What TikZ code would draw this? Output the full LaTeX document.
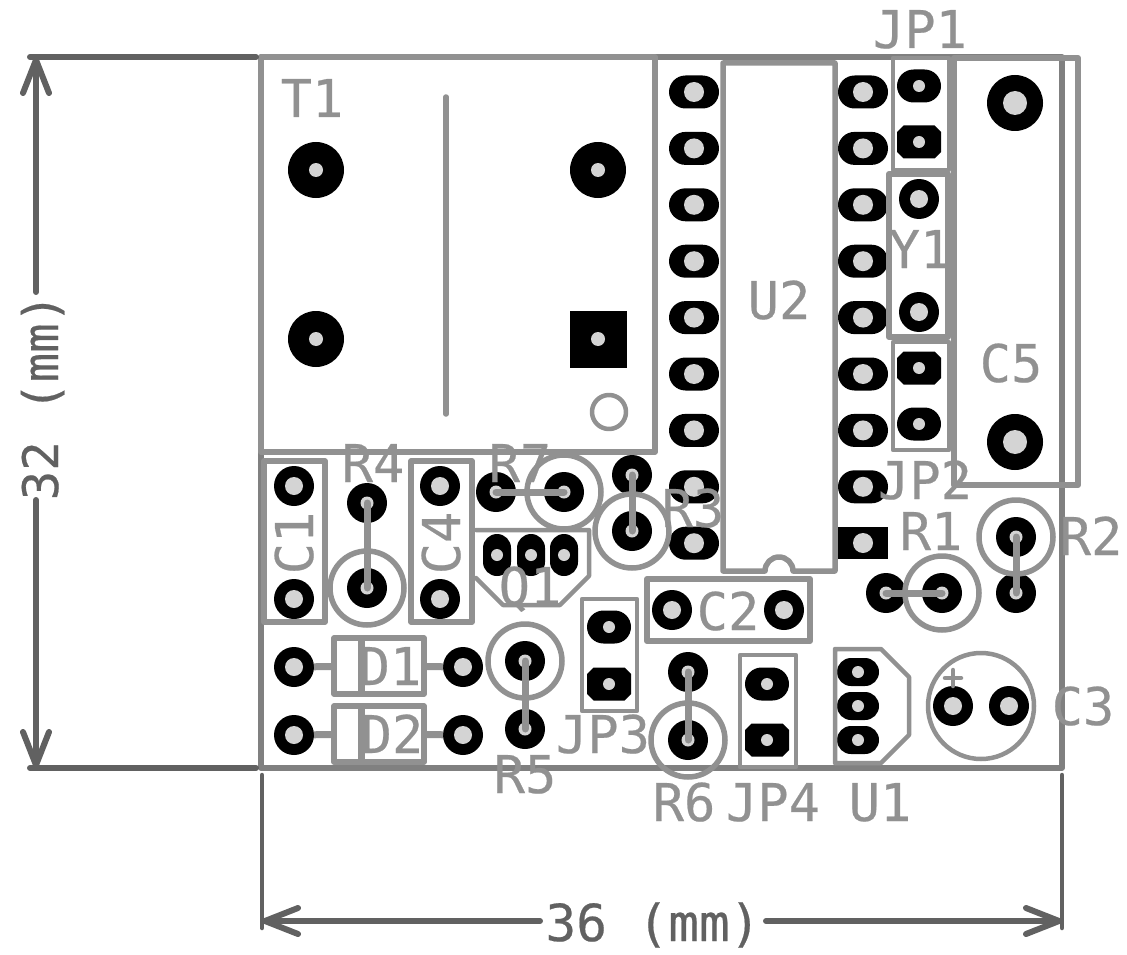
\documentclass[tikz,border=0pt]{standalone}
\usepackage{fontspec}
\usetikzlibrary{arrows.meta,shapes.misc}
\newfontfamily\pcbfont[FakeBold=0.4]{DejaVu Sans Mono}
\definecolor{silkgray}{gray}{0.57}
\definecolor{edgegray}{gray}{0.50}
\definecolor{dimgray}{gray}{0.38}
\definecolor{drillgray}{gray}{0.83}
\tikzset{
  silk/.style={draw=silkgray,line width=5.5pt,line join=round,line cap=round},
  silkthin/.style={silk,line width=4.5pt},
  wire/.style={silk,line width=7pt},
  edgeline/.style={draw=edgegray,line width=5.5pt,line join=round},
  dimline/.style={draw=dimgray,line width=6pt,line cap=round},
  dimtip/.style={dimline,-{Straight Barb[length=33pt,width=26pt,round]}},
  silktext/.style={text=silkgray,inner sep=0pt,anchor=base,font=\pcbfont\fontsize{52}{52}\selectfont},
  dimtext/.style={text=dimgray,inner sep=0pt,anchor=base,font=\pcbfont\fontsize{#1}{#1}\selectfont},
  drill/.style={path picture={\fill[drillgray] (path picture bounding box.center) circle (#1);}},
  pad/.style={fill=black,inner sep=0pt,outer sep=0pt},
  padround/.style={pad,circle,minimum size=40pt,drill=9pt},
  padsmall/.style={pad,circle,minimum size=40pt,drill=6.5pt},
  padlarge/.style={pad,circle,minimum size=56pt,drill=#1},
  padoval/.style={pad,rounded rectangle,minimum width=50pt,minimum height=33pt,drill=10pt},
  padjp/.style={pad,rounded rectangle,minimum width=44pt,minimum height=33pt,drill=6pt},
  padocta/.style={rectangle,inner sep=0pt,outer sep=0pt,minimum width=44pt,minimum height=33pt,
    path picture={
      \fill[black] ([xshift=-22pt,yshift=-10pt]path picture bounding box.center)
        -- ++(0pt,20pt) -- ++(6.5pt,6.5pt) -- ++(31pt,0pt) -- ++(6.5pt,-6.5pt)
        -- ++(0pt,-20pt) -- ++(-6.5pt,-6.5pt) -- ++(-31pt,0pt) -- cycle;
      \fill[drillgray] (path picture bounding box.center) circle (6pt);
    }},
  padfet/.style={pad,rounded rectangle,minimum width=42pt,minimum height=28pt,drill=6pt},
  body/.style={silk,rectangle,inner sep=0pt,outer sep=0pt,fill=none},
}
\begin{document}
\begin{tikzpicture}[x=1pt,y=-1pt]
\useasboundingbox (0,0) rectangle (1127,955);
\path (36,57) coordinate (dimTop);
\path (36,768) coordinate (dimBot);
\path (262,921) coordinate (dimLeft);
\path (1062,921) coordinate (dimRight);

% board
\draw[edgeline] (261,57) rectangle (1062,768);

% pads
\node[padlarge=7pt] (T1a) at (316,170) {};
\node[padlarge=7pt] (T1b) at (598,170) {};
\node[padlarge=7pt] (T1c) at (316,339) {};
\node[pad,rectangle,minimum size=57pt,drill=7pt] (T1d) at (598,339) {};
\foreach \i in {1,...,9} {
  \node[padoval] (U2l\i) at (694,{92+(\i-1)*56.4}) {};
}
\foreach \i in {1,...,8} {
  \node[padoval] (U2r\i) at (863,{92+(\i-1)*56.4}) {};
}
\node[pad,rectangle,minimum width=50pt,minimum height=32pt,drill=10pt] (U2r9) at (863,543) {};
\node[padjp] (JP1a) at (919,86) {};
\node[padocta] (JP1b) at (919,142) {};
\node[padocta] (JP2a) at (919,368) {};
\node[padjp] (JP2b) at (919,424) {};
\node[padocta] (JP3b) at (609,684) {};
\node[padjp] (JP3a) at (609,627) {};
\node[padjp] (JP4a) at (767,684) {};
\node[padocta] (JP4b) at (767,740) {};
\node[padround] (Y1a) at (919,199) {};
\node[padround] (Y1b) at (919,312) {};
\node[padlarge=12pt] (C5a) at (1015,103) {};
\node[padlarge=12pt] (C5b) at (1015,442) {};
\node[padround] (C1a) at (294,486) {};
\node[padround] (C1b) at (294,599) {};
\node[padround] (C4a) at (440,486) {};
\node[padround] (C4b) at (440,599) {};
\node[padround] (C2a) at (672,610) {};
\node[padround] (C2b) at (784,610) {};
\node[padround] (C3a) at (953,706) {};
\node[padround] (C3b) at (1009,706) {};
\node[padround] (D1a) at (294,667) {};
\node[padround] (D1b) at (463,667) {};
\node[padround] (D2a) at (294,735) {};
\node[padround] (D2b) at (463,735) {};
\node[padsmall] (R1a) at (886,593) {};
\node[padsmall] (R1b) at (942,593) {};
\node[padsmall] (R2a) at (1016,537) {};
\node[padsmall] (R2b) at (1016,593) {};
\node[padsmall] (R3a) at (632,475) {};
\node[padsmall] (R3b) at (632,531) {};
\node[padsmall] (R4a) at (367,503) {};
\node[padsmall] (R4b) at (367,588) {};
\node[padsmall] (R5a) at (525,661) {};
\node[padsmall] (R5b) at (525,729) {};
\node[padsmall] (R6a) at (688,672) {};
\node[padsmall] (R6b) at (688,740) {};
\node[padsmall] (R7a) at (496,492) {};
\node[padsmall] (R7b) at (564,492) {};
\foreach \n/\x in {a/497,b/531,c/564} {
  \node[padfet,rotate=90] (Q1\n) at (\x,555) {};
}
\foreach \n/\y in {a/672,b/706,c/740} {
  \node[padfet] (U1\n) at (858,\y) {};
}

% outlines
\draw[silk] (261,57) rectangle (655,452);
\draw[silk] (446,97) -- (446,414);
\draw[silkthin] (609,412) circle (17pt);
\draw[silk] (723,63) -- (723,571) -- (765,571) arc[start angle=180,end angle=0,radius=14pt] -- (835,571) -- (835,63) -- cycle;
\draw[silk,line width=6pt] (954,58) -- (1078,58) -- (1078,485) -- (954,485) -- cycle;
\draw[silkthin] (893,58) rectangle (949,170);
\draw[silkthin] (893,342) rectangle (949,450);
\draw[silk,line width=6pt] (889,174) rectangle (948,337);
\draw[silk] (264,461) rectangle (325,622);
\draw[silk] (411,461) rectangle (472,622);
\draw[silk,line width=6pt] (647,579) rectangle (810,641);
\draw[silkthin] (582,599) rectangle (637,711);
\draw[silkthin] (740,655) rectangle (796,767);
\draw[silkthin] (476,530) -- (589,530) -- (589,576) -- (560,605) -- (503,605) -- (476,578);
\draw[silkthin] (835,649) -- (881,649) -- (909,677) -- (909,735) -- (881,763) -- (835,763) -- cycle;
\draw[silkthin] (981,706) circle (53pt);
\draw[silkthin] (945,678) -- (961,678);
\draw[silkthin] (953,670) -- (953,686);

% diodes
\node[body,minimum width=90pt,minimum height=56pt] (D1body) at (379,666) {};
\node[body,minimum width=90pt,minimum height=56pt] (D2body) at (379,734) {};
\draw[silk,line width=7pt,line cap=butt] (361.5,638) -- (361.5,694);
\draw[silk,line width=7pt,line cap=butt] (361.5,706) -- (361.5,762);
\draw[wire,line cap=butt] (D1a) -- (D1body);
\draw[wire,line cap=butt] (D1body) -- (D1b);
\draw[wire,line cap=butt] (D2a) -- (D2body);
\draw[wire,line cap=butt] (D2body) -- (D2b);

% resistors
\foreach \n in {R1,R2,R3,R4,R5,R6,R7} {
  \draw[wire] (\n a.center) -- (\n b.center);
}
\foreach \n in {R1b,R2a,R3b,R4b,R5a,R6b,R7b} {
  \draw[silk] (\n.center) circle (37pt);
}

% dimensions
\draw[dimline] (30,57) -- (256,57);
\draw[dimline] (30,768) -- (256,768);
\draw[dimline,line width=4.5pt] (262,775) -- (262,928);
\draw[dimline,line width=4.5pt] (1062,775) -- (1062,928);
\path (36,292) coordinate (dimA);
\path (36,500) coordinate (dimB);
\path (540,921) coordinate (dimC);
\path (766,921) coordinate (dimD);
\draw[dimtip] (dimA) -- (dimTop);
\draw[dimtip] (dimB) -- (dimBot);
\draw[dimtip] (dimC) -- (dimLeft);
\draw[dimtip] (dimD) -- (dimRight);
\node[dimtext=49,rotate=90] (dimV) at (58,397) {32 (mm)};
\node[dimtext=51] (dimH) at (653,941) {36 (mm)};

% names
\node[silktext] (nT1) at (312,117) {T1};
\node[silktext] (nR4) at (373,482) {R4};
\node[silktext] (nR7) at (520,482) {R7};
\node[silktext] (nR3) at (693,527) {R3};
\node[silktext,rotate=90] (nC1) at (313,543) {C1};
\node[silktext,rotate=90] (nC4) at (460,543) {C4};
\node[silktext] (nQ1) at (530,605) {Q1};
\node[silktext] (nD1) at (390,685) {D1};
\node[silktext] (nD2) at (392,753) {D2};
\node[silktext] (nR5) at (525,793) {R5};
\node[silktext] (nJP3) at (603,753) {JP3};
\node[silktext] (nJP4) at (773,821) {JP4};
\node[silktext] (nR6) at (684,821) {R6};
\node[silktext] (nU1) at (880,821) {U1};
\node[silktext] (nR1) at (931,550) {R1};
\node[silktext] (nR2) at (1091,555) {R2};
\node[silktext] (nC3) at (1083,725) {C3};
\node[silktext] (nC2) at (728,630) {C2};
\node[silktext] (nJP2) at (925,499) {JP2};
\node[silktext] (nJP1) at (920,48) {JP1};
\node[silktext] (nY1) at (920,268) {Y1};
\node[silktext] (nU2) at (779,319) {U2};
\node[silktext] (nC5) at (1011,382) {C5};
\end{tikzpicture}
\end{document}
